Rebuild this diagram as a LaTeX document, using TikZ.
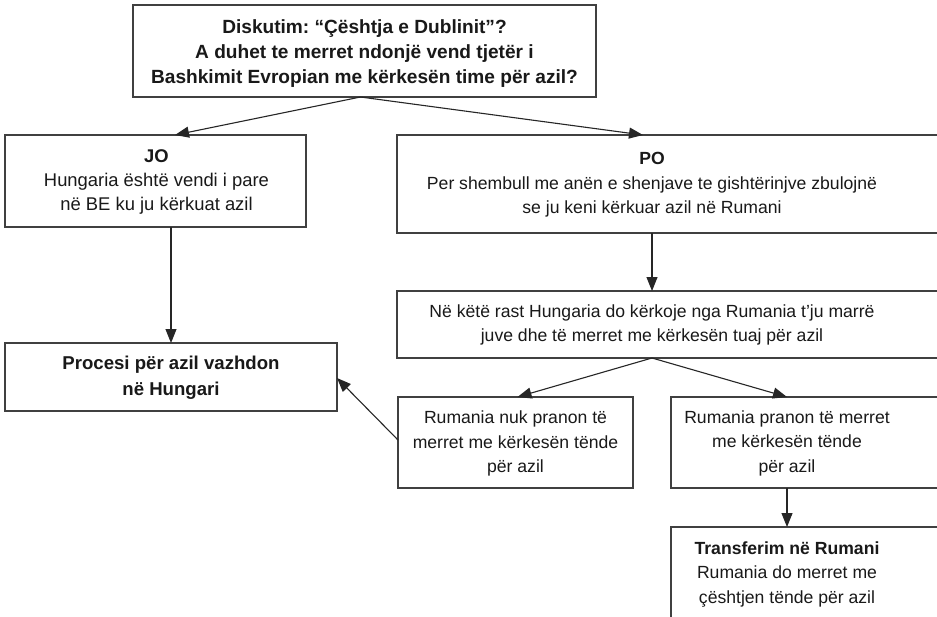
\documentclass[tikz,border=0pt]{standalone}
\usepackage{fontspec}
\setmainfont{Liberation Sans}
\usetikzlibrary{arrows.meta,calc}
\frenchspacing
\begin{document}
\begin{tikzpicture}[x=1pt,y=-1pt,
  every node/.style={inner sep=0pt,outer sep=0pt},
  box/.style={draw=black!75,line width=1.4pt,rectangle,anchor=north west},
  txt/.style={align=center,text=black!90,font=\fontsize{17.6}{24.5}\selectfont},
  bigtxt/.style={align=center,text=black!90,font=\fontsize{18.6}{25}\selectfont},
  arr/.style={draw=black!85,line width=1.1pt,-{Triangle[length=14pt,width=11pt]}}]
\clip (0,0) rectangle (937,616);
\fill[white] (0,0) rectangle (937,616);
% top box
\node[box,minimum width=463pt,minimum height=92pt] (top) at (133,5) {};
\node[bigtxt,font=\fontsize{19.1}{25}\selectfont\bfseries\frenchspacing] (toptext) at ($(top.center)+(0,3)$)
  {Diskutim: “Çështja e Dublinit”?\\A duhet te merret ndonjë vend tjetër i\\Bashkimit Evropian me kërkesën time për azil?};
% JO
\node[box,minimum width=301pt,minimum height=92pt] (jo) at (5,135) {};
\node[bigtxt,font=\fontsize{18.4}{24}\selectfont] (jotext) at ($(jo.center)+(1,1)$) {\textbf{JO}\\Hungaria është vendi i pare\\në BE ku ju kërkuat azil};
% Procesi
\node[box,minimum width=332pt,minimum height=68pt] (proc) at (5,343) {};
\node[bigtxt,font=\fontsize{18.6}{26}\selectfont\bfseries] (proctext) at ($(proc.center)+(0,1)$) {Procesi për azil vazhdon\\në Hungari};
% PO
\node[box,minimum width=560pt,minimum height=98pt] (po) at (397,135) {};
\node[txt] (potext) at (652,185) {\textbf{PO}\\Per shembull me anën e shenjave te gishtërinjve zbulojnë\\se ju keni kërkuar azil në Rumani};
% Ne kete rast
\node[box,minimum width=560pt,minimum height=67pt] (ne) at (397,291) {};
\node[txt] (netext) at (652,325) {Në këtë rast Hungaria do kërkoje nga Rumania t’ju marrë\\juve dhe të merret me kërkesën tuaj për azil};
% nuk pranon
\node[box,minimum width=235pt,minimum height=91pt] (nuk) at (398,397) {};
\node[txt] (nuktext) at ($(nuk.center)+(0,1)$) {Rumania nuk pranon të\\merret me kërkesën tënde\\për azil};
% pranon
\node[box,minimum width=300pt,minimum height=91pt] (pra) at (671,397) {};
\node[txt] (pratext) at (787,443) {Rumania pranon të merret\\me kërkesën tënde\\për azil};
% transferim
\node[box,minimum width=300pt,minimum height=120pt] (tra) at (671,527) {};
\node[txt] (tratext) at (787,574) {\textbf{Transferim në Rumani}\\Rumania do merret me\\çështjen tënde për azil};
% connectors
\draw[arr] ($(top.south)+(-4,0)$) -- ($(jo.north)+(19.5,0)$);
\draw[arr] ($(top.south)+(-4,0)$) -- ($(po.north west)+(246,0)$);
\draw[arr] (proc.north |- jo.south) -- (proc.north);
\draw[arr] (potext |- po.south) -- (potext |- ne.north);
\draw[arr] (netext |- ne.south) -- ($(nuk.north)+(2,0)$);
\draw[arr] (netext |- ne.south) -- (pratext |- pra.north);
\draw[arr] ($(nuk.north west)+(0,43)$) -- ($(proc.north east)+(0,35)$);
\draw[arr] (pratext |- pra.south) -- (pratext |- tra.north);
\end{tikzpicture}
\end{document}
